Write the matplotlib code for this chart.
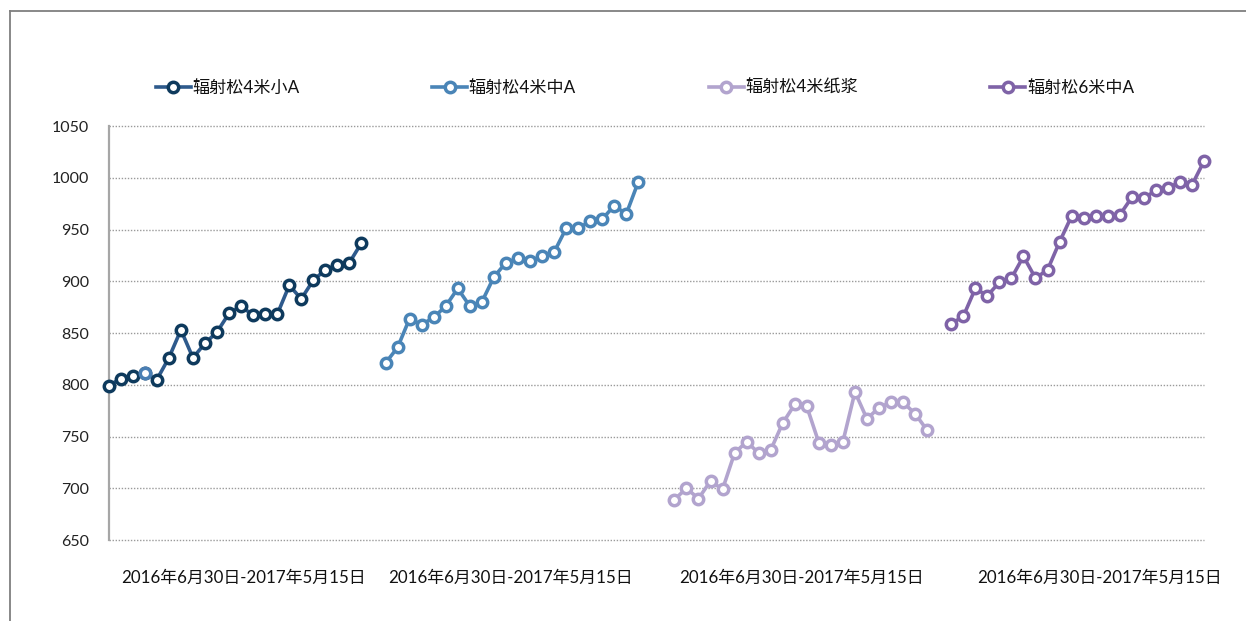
import matplotlib
matplotlib.use("Agg")
import matplotlib.pyplot as plt
from matplotlib.lines import Line2D
import numpy as np

plt.rcParams['font.family'] = ['Lato', 'Noto Sans CJK SC', 'DejaVu Sans']

series_names = ["辐射松4米小A", "辐射松4米中A", "辐射松4米纸浆", "辐射松6米中A"]
period_label = "2016年6月30日-2017年5月15日"

s1 = [799, 806, 808, 811, 805, 826, 853, 826, 840, 851, 869, 876, 867, 868, 868,
      896, 883, 901, 911, 916, 918, 937]
s2 = [821, 836, 864, 858, 865, 876, 893, 876, 880, 904, 918, 922, 920, 924, 928,
      951, 951, 958, 960, 973, 965, 996]
s3 = [689, 700, 690, 707, 699, 734, 745, 734, 737, 763, 781, 779, 744, 742, 745,
      793, 767, 778, 783, 783, 772, 756]
s4 = [859, 866, 893, 886, 899, 903, 924, 903, 911, 938, 963, 961, 963, 963, 964,
      981, 980, 988, 990, 996, 993, 1016]
values = [s1, s2, s3, s4]

y_ticks = [650, 700, 750, 800, 850, 900, 950, 1000, 1050]

# layout (category slot where each series starts on the shared x axis)
starts = [0, 23, 47, 70]
n_slots = 92
line_colors = ["#2e5a8c", "#4a85b7", "#b2a4ce", "#7f63a7"]
edge_colors = ["#0e3a5d", "#4a85b7", "#b2a4ce", "#7f63a7"]

W, H = 1246, 621
fig = plt.figure(figsize=(W / 100, H / 100), dpi=100)
ax = fig.add_axes([108.7 / W, 1 - 540 / H, (1204 - 108.7) / W, (540 - 126) / H])

handles = []
for i, (name, vals) in enumerate(zip(series_names, values)):
    x = np.arange(len(vals)) + starts[i]
    h, = ax.plot(x, vals, color=line_colors[i], lw=2.6, marker='o', ms=7.5,
                 mfc='white', mec=edge_colors[i], mew=2.5, label=name,
                 solid_joinstyle='round', zorder=3, clip_on=False)
    handles.append(h)
    if i == 0:
        # one marker of the first series is drawn lighter in the reference
        ax.plot(x[3], vals[3], marker='o', ms=7.5, mfc='white',
                mec="#4a7fb4", mew=2.5, zorder=4, clip_on=False)

ax.set_xlim(0, n_slots - 1)
ax.set_ylim(650, 1050)
ax.set_yticks(y_ticks)
ax.set_yticklabels([str(v) for v in y_ticks], fontsize=11.5, color='#222222')
ax.tick_params(axis='y', length=0, pad=14)
ax.set_xticks([])
for y in y_ticks:
    ax.axhline(y, color='#9a9a9a', lw=1.0, ls=(0, (1, 1.2)), zorder=1, clip_on=False)
for s in ['top', 'right', 'bottom']:
    ax.spines[s].set_visible(False)
ax.spines['left'].set_color('#a6a6a6')
ax.spines['left'].set_linewidth(1.6)

label_centers = [243, 510, 801, 1099]
for cx in label_centers:
    fig.text(cx / W, 1 - 578 / H, period_label, ha='center', va='center',
             fontsize=12.2, color='#111111')

leg = fig.legend(handles=handles, loc='center', bbox_to_anchor=(645 / W, 1 - 88 / H),
                 ncol=4, frameon=False, fontsize=12.3, handlelength=2.05,
                 handletextpad=0.1, columnspacing=7.75)
for t in leg.get_texts():
    t.set_color('#111111')

# outer chart border
fig.add_artist(Line2D([10 / W, 10 / W], [0, 1 - 11 / H], color='#7f7f7f', lw=1.3,
                      transform=fig.transFigure))
fig.add_artist(Line2D([10 / W, 1], [1 - 11 / H, 1 - 11 / H], color='#7f7f7f', lw=1.3,
                      transform=fig.transFigure))

fig.savefig("out.png", dpi=100)
